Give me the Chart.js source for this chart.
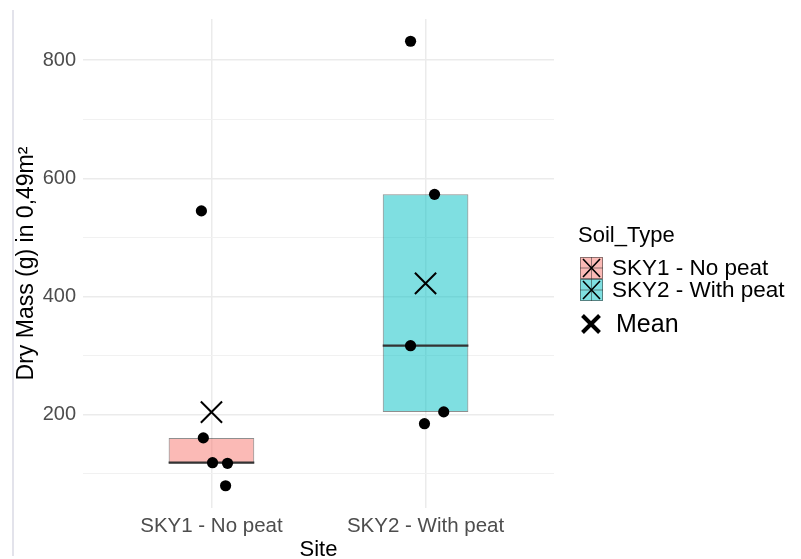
<!DOCTYPE html>
<html>
<head>
<meta charset="utf-8">
<script src="https://cdn.jsdelivr.net/npm/chart.js@4.4.1/dist/chart.umd.min.js"></script>
<style>
  html, body { margin: 0; padding: 0; background: #fff; }
  canvas { display: block; }
</style>
</head>
<body>
<canvas id="chart" width="801" height="559"></canvas>
<script>
// Sites and their fill colours
const sites = ['SKY1 - No peat', 'SKY2 - With peat'];
const siteFill = ['rgba(248,118,109,0.5)', 'rgba(0,191,196,0.5)'];

// Dry mass of each plot, g per 0.49 m²
const massSky1 = [545, 161, 119, 118, 80];
const massSky2 = [832, 573, 317, 205, 185];

// Horizontal jitter of the individual points, in site units
const jitterSky1 = [-0.047, -0.038, 0.005, 0.075, 0.066];
const jitterSky2 = [-0.07, 0.042, -0.07, 0.085, -0.005];

// Box statistics per site
const lowerQuartile = [118, 205];
const medianMass = [119, 317];
const upperQuartile = [161, 573];
const meanMass = [204.6, 422.4];

// Y axis ticks (gridlines) and the ones that carry a label
const yTicks = [100, 200, 300, 400, 500, 600, 700, 800];
const yLabelled = [200, 400, 600, 800];

const FONT = 'Liberation Sans, Arial, Helvetica, sans-serif';
Chart.defaults.font.family = FONT;

const boxWidth = 0.4; // box width in site units

const boxData = sites.map((s, i) => ({ x: i + 1, y: [lowerQuartile[i], upperQuartile[i]] }));

const medianData = [];
medianMass.forEach((m, i) => {
  if (i > 0) medianData.push({ x: i + 0.5, y: null });
  medianData.push({ x: i + 1 - boxWidth / 2, y: m });
  medianData.push({ x: i + 1 + boxWidth / 2, y: m });
});

const pointData = [
  ...massSky1.map((v, i) => ({ x: 1 + jitterSky1[i], y: v })),
  ...massSky2.map((v, i) => ({ x: 2 + jitterSky2[i], y: v }))
];

const meanData = meanMass.map((v, i) => ({ x: i + 1, y: v }));

// Page edge line on the left
const edgeLine = {
  id: 'edgeLine',
  beforeDraw(chart) {
    const ctx = chart.ctx;
    ctx.save();
    ctx.strokeStyle = '#e3e3eb';
    ctx.lineWidth = 2;
    ctx.beginPath();
    ctx.moveTo(13, 10);
    ctx.lineTo(13, 556);
    ctx.stroke();
    ctx.restore();
  }
};

// Legend drawn to the right of the plot
const sideLegend = {
  id: 'sideLegend',
  afterDraw(chart) {
    const ctx = chart.ctx;
    ctx.save();
    ctx.textBaseline = 'middle';
    ctx.textAlign = 'left';
    ctx.fillStyle = '#000';
    ctx.font = '22px ' + FONT;
    ctx.fillText('Soil_Type', 578, 236);

    const keyX = 580, keyW = 23, keyH = 22;
    const centres = [268, 290];
    sites.forEach((name, i) => {
      const top = centres[i] - keyH / 2;
      ctx.fillStyle = '#fff';
      ctx.fillRect(keyX, top, keyW, keyH);
      ctx.fillStyle = siteFill[i];
      ctx.fillRect(keyX, top, keyW, keyH);
      ctx.strokeStyle = 'rgba(51,51,51,0.55)';
      ctx.lineWidth = 1;
      ctx.strokeRect(keyX + 0.5, top + 0.5, keyW - 1, keyH - 1);
      ctx.beginPath();
      ctx.moveTo(keyX + keyW / 2, top);
      ctx.lineTo(keyX + keyW / 2, top + keyH);
      ctx.moveTo(keyX, top + keyH / 2);
      ctx.lineTo(keyX + keyW, top + keyH / 2);
      ctx.stroke();
      ctx.strokeStyle = '#000';
      ctx.lineWidth = 1.6;
      ctx.beginPath();
      ctx.moveTo(keyX + 3, top + 2);
      ctx.lineTo(keyX + keyW - 3, top + keyH - 2);
      ctx.moveTo(keyX + keyW - 3, top + 2);
      ctx.lineTo(keyX + 3, top + keyH - 2);
      ctx.stroke();
      ctx.fillStyle = '#000';
      ctx.font = '22.5px ' + FONT;
      ctx.fillText(name, 612, centres[i] + 1);
    });

    // Mean key
    const mx = 591, my = 324, r = 8.5;
    ctx.strokeStyle = '#000';
    ctx.lineWidth = 4;
    ctx.beginPath();
    ctx.moveTo(mx - r, my - r);
    ctx.lineTo(mx + r, my + r);
    ctx.moveTo(mx + r, my - r);
    ctx.lineTo(mx - r, my + r);
    ctx.stroke();
    ctx.fillStyle = '#000';
    ctx.font = '25px ' + FONT;
    ctx.fillText('Mean', 616, my + 1);
    ctx.restore();
  }
};

new Chart(document.getElementById('chart'), {
  type: 'scatter',
  data: {
    datasets: [
      {
        type: 'bar',
        data: boxData,
        backgroundColor: siteFill,
        borderColor: 'rgba(51,51,51,0.55)',
        borderWidth: 1,
        borderSkipped: false,
        barPercentage: boxWidth,
        categoryPercentage: 1,
        order: 4
      },
      {
        type: 'line',
        data: medianData,
        borderColor: '#333333',
        borderWidth: 2.3,
        pointRadius: 0,
        spanGaps: false,
        fill: false,
        order: 3
      },
      {
        data: pointData,
        backgroundColor: '#000',
        borderWidth: 0,
        pointRadius: 5.6,
        order: 2
      },
      {
        data: meanData,
        pointStyle: 'crossRot',
        pointRadius: 15,
        borderColor: '#000',
        borderWidth: 2,
        order: 1
      }
    ]
  },
  plugins: [edgeLine, sideLegend],
  options: {
    responsive: false,
    animation: false,
    events: [],
    layout: { padding: { left: 0, right: 247, top: 19, bottom: 0 } },
    plugins: { legend: { display: false }, tooltip: { enabled: false } },
    scales: {
      x: {
        type: 'linear',
        min: 0.4,
        max: 2.6,
        offset: false,
        afterBuildTicks: s => { s.ticks = sites.map((n, i) => ({ value: i + 1 })); },
        afterFit: s => { s.height = 51; },
        ticks: {
          callback: v => sites[Math.round(v) - 1],
          color: '#4d4d4d',
          font: { size: 20.5 },
          padding: 6,
          autoSkip: false,
          maxRotation: 0
        },
        grid: { color: '#ebebeb', lineWidth: 1.5, drawTicks: false, offset: false },
        border: { display: false },
        title: { display: true, text: 'Site', color: '#000', font: { size: 22, lineHeight: 0.8 }, padding: 0 }
      },
      y: {
        type: 'linear',
        min: 42.4,
        max: 869.6,
        afterBuildTicks: s => { s.ticks = yTicks.map(v => ({ value: v })); },
        afterFit: s => { s.width = 83; },
        ticks: {
          callback: v => (yLabelled.includes(v) ? String(v) : ''),
          color: '#4d4d4d',
          font: { size: 20 },
          padding: 7
        },
        grid: {
          color: ctx => (yLabelled.includes(ctx.tick && ctx.tick.value) ? '#ebebeb' : '#f1f1f1'),
          lineWidth: ctx => (yLabelled.includes(ctx.tick && ctx.tick.value) ? 1.5 : 1),
          drawTicks: false
        },
        border: { display: false },
        title: { display: true, text: 'Dry Mass (g) in 0,49m²', color: '#000', font: { size: 23, lineHeight: 1 }, padding: { top: 15, bottom: 0 } }
      }
    }
  }
});
</script>
</body>
</html>
